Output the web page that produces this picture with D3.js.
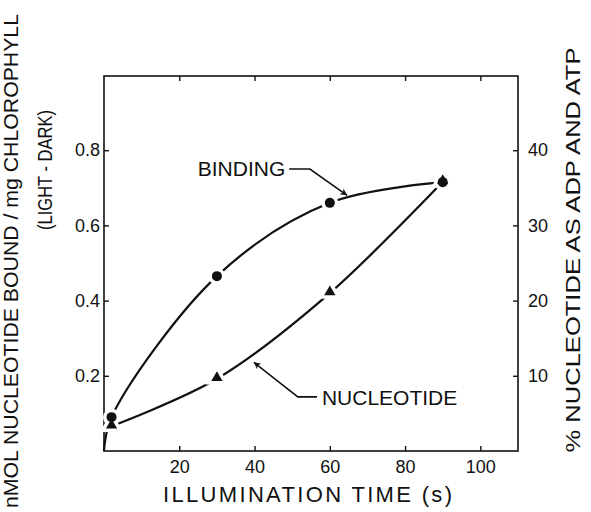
<!DOCTYPE html>
<html>
<head>
<meta charset="utf-8">
<script src="https://cdn.jsdelivr.net/npm/d3@7"></script>
<style>
  body { margin: 0; background: #fff; }
  svg text { font-family: "Liberation Sans", Arial, sans-serif; fill: #111; }
  .axis text { font-size: 18px; }
  .axis line { stroke: #111; stroke-width: 1.4px; }
  .axis path { display: none; }
</style>
</head>
<body>
<svg id="chart" width="591" height="512"></svg>
<script>
// illumination time (s)
var times = [2, 30, 60, 90];
// binding, nmol / mg chlorophyll (left axis); curve starts at the origin
var bindingX = [0, 2, 30, 60, 90];
var bindingY = [0, 0.09, 0.465, 0.66, 0.715];
// % nucleotide as ADP and ATP (right axis)
var nucleotideY = [3.3, 9.6, 21.0, 35.8];

var xTicks = [20, 40, 60, 80, 100];
var leftTicks = [0.2, 0.4, 0.6, 0.8];
var rightTicks = [10, 20, 30, 40];

// annotation anchors in data units (x, left-axis y)
var bindingLabel = [24.9, 0.731];
var bindingArrow = [[49.2, 0.75], [54.7, 0.75], [64.6, 0.68]];
var nucleotideLabel = [57.9, 0.122];
var nucleotideArrow = [[56.6, 0.144], [51.5, 0.144], [39.8, 0.236]];

var pLeft = 104, pRight = 518, pTop = 76, pBottom = 451;

var x = d3.scaleLinear().domain([0, 110]).range([pLeft, pRight]);
var yL = d3.scaleLinear().domain([0, 1]).range([pBottom, 75]);
var yR = d3.scaleLinear().domain([0, 50]).range([pBottom, 75]);

var svg = d3.select("#chart");

// frame
svg.append("rect")
   .attr("x", pLeft).attr("y", pTop)
   .attr("width", pRight - pLeft).attr("height", pBottom - pTop)
   .attr("fill", "none").attr("stroke", "#111").attr("stroke-width", 1.6);

svg.append("g").attr("class", "axis")
   .attr("transform", "translate(0," + pBottom + ")")
   .call(d3.axisBottom(x).tickValues(xTicks).tickSizeInner(-5).tickSizeOuter(0).tickPadding(9));
svg.append("g").attr("class", "axis")
   .attr("transform", "translate(0," + pTop + ")")
   .call(d3.axisTop(x).tickValues(xTicks).tickFormat("").tickSizeInner(-5).tickSizeOuter(0));
svg.append("g").attr("class", "axis")
   .attr("transform", "translate(" + pLeft + ",0)")
   .call(d3.axisLeft(yL).tickValues(leftTicks).tickFormat(d3.format(".1f")).tickSizeInner(-5).tickSizeOuter(0).tickPadding(4));
svg.append("g").attr("class", "axis")
   .attr("transform", "translate(" + pRight + ",0)")
   .call(d3.axisRight(yR).tickValues(rightTicks).tickSizeInner(-5).tickSizeOuter(0).tickPadding(10));

// axis titles
svg.append("text")
   .attr("transform", "translate(11,261) rotate(-90)")
   .attr("text-anchor", "middle").attr("dy", "0.35em")
   .attr("textLength", 494).attr("lengthAdjust", "spacingAndGlyphs")
   .style("font-size", "20px")
   .text("nMOL NUCLEOTIDE BOUND / mg CHLOROPHYLL");
svg.append("text")
   .attr("transform", "translate(45,170) rotate(-90)")
   .attr("text-anchor", "middle").attr("dy", "0.35em")
   .attr("textLength", 120).attr("lengthAdjust", "spacingAndGlyphs")
   .style("font-size", "20px")
   .text("(LIGHT - DARK)");
svg.append("text")
   .attr("transform", "translate(573,250) rotate(-90)")
   .attr("text-anchor", "middle").attr("dy", "0.35em")
   .attr("textLength", 405).attr("lengthAdjust", "spacingAndGlyphs")
   .style("font-size", "20px")
   .text("% NUCLEOTIDE AS ADP AND ATP");
svg.append("text")
   .attr("x", 163).attr("y", 502)
   .attr("textLength", 289).attr("lengthAdjust", "spacing")
   .style("font-size", "22px")
   .text("ILLUMINATION  TIME  (s)");

// curves
var bindingPts = bindingX.map(function(d, i) { return [x(d), yL(bindingY[i])]; });
var nucleotidePts = times.map(function(d, i) { return [x(d), yR(nucleotideY[i])]; });
var curve = d3.line().curve(d3.curveCatmullRom.alpha(0.5));

svg.append("path").attr("d", curve(bindingPts))
   .attr("fill", "none").attr("stroke", "#111").attr("stroke-width", 2.2);
svg.append("path").attr("d", curve(nucleotidePts))
   .attr("fill", "none").attr("stroke", "#111").attr("stroke-width", 2.2);

// markers: white halos first, then the black marks
var circles = bindingPts.slice(1);
var tri = d3.symbol().type(d3.symbolTriangle).size(55);
[["#fff", 7], ["#111", 0]].forEach(function(s) {
  svg.append("g").selectAll("circle").data(circles).enter().append("circle")
     .attr("cx", function(d) { return d[0]; })
     .attr("cy", function(d) { return d[1]; })
     .attr("r", 5)
     .attr("fill", "#111")
     .attr("stroke", s[0]).attr("stroke-width", s[1]);
  svg.append("g").selectAll("path").data(nucleotidePts).enter().append("path")
     .attr("d", tri)
     .attr("transform", function(d) { return "translate(" + d[0] + "," + (d[1] - 1) + ")"; })
     .attr("fill", "#111")
     .attr("stroke", s[0]).attr("stroke-width", s[1]);
});

// annotations
svg.append("defs").append("marker")
   .attr("id", "head").attr("viewBox", "0 0 10 10")
   .attr("refX", 10).attr("refY", 5)
   .attr("markerWidth", 11).attr("markerHeight", 7)
   .attr("markerUnits", "userSpaceOnUse")
   .attr("orient", "auto")
   .append("path").attr("d", "M0,0 L10,5 L0,10 L3,5 Z").attr("fill", "#111");

var arrowLine = d3.line().x(function(d) { return x(d[0]); }).y(function(d) { return yL(d[1]); });
[bindingArrow, nucleotideArrow].forEach(function(a) {
  svg.append("path").attr("d", arrowLine(a))
     .attr("fill", "none").attr("stroke", "#111").attr("stroke-width", 1.6)
     .attr("marker-end", "url(#head)");
});

svg.append("text")
   .attr("x", x(bindingLabel[0])).attr("y", yL(bindingLabel[1]))
   .style("font-size", "21px")
   .text("BINDING");
svg.append("text")
   .attr("x", x(nucleotideLabel[0])).attr("y", yL(nucleotideLabel[1]))
   .style("font-size", "21px")
   .text("NUCLEOTIDE");
</script>
</body>
</html>
